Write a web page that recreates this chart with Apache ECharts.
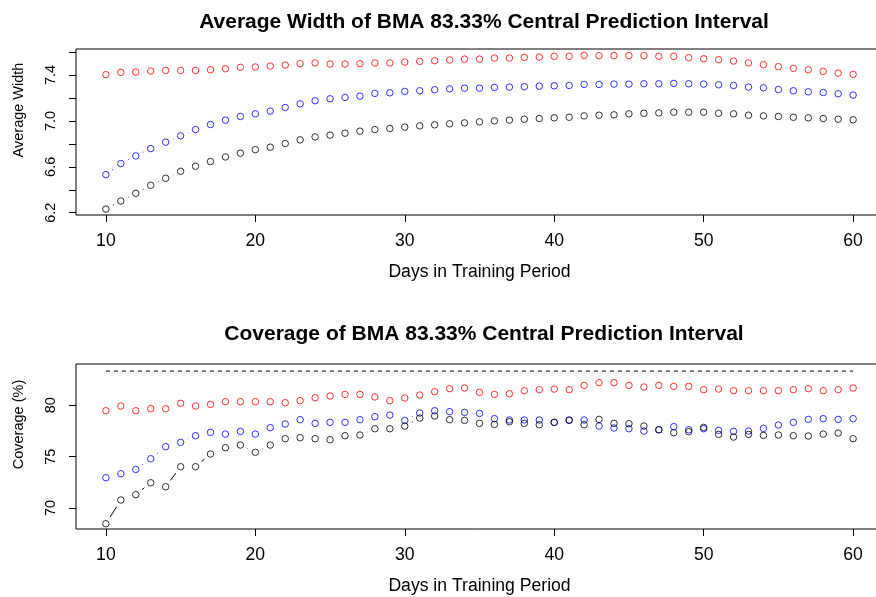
<!DOCTYPE html>
<html>
<head>
  <meta charset="utf-8">
  <title>BMA Prediction Interval</title>
  <script src="https://cdn.jsdelivr.net/npm/echarts@6/dist/echarts.min.js"></script>
  <style>
    html, body { margin: 0; padding: 0; background: #fff; }
    #chart { width: 876px; height: 597px; }
  </style>
</head>
<body>
<div id="chart"></div>
<script>
  // training period lengths (days)
  const days = [10, 11, 12, 13, 14, 15, 16, 17, 18, 19, 20, 21, 22, 23, 24, 25, 26, 27, 28, 29, 30,
    31, 32, 33, 34, 35, 36, 37, 38, 39, 40, 41, 42, 43, 44, 45, 46, 47, 48, 49, 50,
    51, 52, 53, 54, 55, 56, 57, 58, 59, 60];

  // average width of the interval
  const widthRed = [7.403, 7.423, 7.426, 7.435, 7.440, 7.440, 7.440, 7.446, 7.455, 7.467, 7.470,
    7.478, 7.487, 7.499, 7.505, 7.496, 7.496, 7.499, 7.505, 7.505, 7.513,
    7.519, 7.525, 7.531, 7.539, 7.539, 7.548, 7.548, 7.554, 7.557, 7.563,
    7.563, 7.571, 7.569, 7.569, 7.569, 7.569, 7.563, 7.563, 7.551, 7.542,
    7.534, 7.522, 7.505, 7.490, 7.473, 7.458, 7.446, 7.432, 7.417, 7.406];
  const widthBlue = [6.532, 6.628, 6.695, 6.759, 6.815, 6.870, 6.925, 6.969, 7.007, 7.039, 7.062,
    7.085, 7.117, 7.149, 7.176, 7.193, 7.205, 7.216, 7.240, 7.245, 7.257,
    7.263, 7.272, 7.280, 7.286, 7.286, 7.292, 7.295, 7.298, 7.303, 7.306,
    7.309, 7.318, 7.318, 7.321, 7.321, 7.324, 7.324, 7.327, 7.324, 7.321,
    7.315, 7.309, 7.295, 7.289, 7.274, 7.263, 7.254, 7.248, 7.237, 7.225];
  const widthBlack = [6.232, 6.302, 6.369, 6.439, 6.500, 6.561, 6.605, 6.646, 6.686, 6.719, 6.750,
    6.771, 6.803, 6.835, 6.861, 6.876, 6.893, 6.911, 6.925, 6.934, 6.946,
    6.957, 6.966, 6.975, 6.983, 6.992, 7.001, 7.007, 7.015, 7.021, 7.027,
    7.032, 7.044, 7.050, 7.053, 7.062, 7.067, 7.070, 7.076, 7.076, 7.076,
    7.067, 7.062, 7.050, 7.044, 7.039, 7.032, 7.027, 7.021, 7.015, 7.010];

  // coverage (%)
  const covRed = [79.47, 79.93, 79.47, 79.67, 79.67, 80.19, 79.93, 80.09, 80.35, 80.35, 80.35,
    80.35, 80.25, 80.45, 80.74, 80.90, 81.06, 81.06, 80.81, 80.45, 80.71,
    81.00, 81.32, 81.62, 81.68, 81.26, 81.06, 81.13, 81.42, 81.52, 81.58,
    81.52, 81.94, 82.20, 82.20, 81.94, 81.78, 81.94, 81.84, 81.84, 81.52,
    81.58, 81.42, 81.42, 81.42, 81.42, 81.52, 81.62, 81.42, 81.52, 81.68];
  const covBlue = [72.95, 73.34, 73.76, 74.80, 75.97, 76.39, 77.04, 77.36, 77.20, 77.46, 77.20,
    77.82, 78.18, 78.60, 78.24, 78.34, 78.34, 78.60, 78.89, 79.05, 78.53,
    79.25, 79.47, 79.38, 79.31, 79.21, 78.70, 78.57, 78.57, 78.57, 78.34,
    78.57, 78.57, 77.98, 77.79, 77.72, 77.49, 77.62, 77.92, 77.62, 77.72,
    77.56, 77.46, 77.49, 77.75, 78.08, 78.34, 78.63, 78.70, 78.63, 78.70];
  const covBlack = [68.47, 70.78, 71.30, 72.46, 72.07, 74.02, 74.02, 75.26, 75.87, 76.13, 75.42,
    76.13, 76.75, 76.85, 76.75, 76.65, 77.04, 77.11, 77.72, 77.72, 77.98,
    78.76, 78.96, 78.60, 78.53, 78.24, 78.14, 78.40, 78.24, 78.11, 78.34,
    78.53, 78.11, 78.63, 78.24, 78.21, 77.98, 77.62, 77.33, 77.43, 77.85,
    77.17, 76.91, 77.17, 77.07, 77.11, 77.04, 77.01, 77.20, 77.30, 76.75];
  const nominal = 83.33;

  const xTicks = [10, 20, 30, 40, 50, 60];
  const widthTicks = [6.2, 6.4, 6.6, 6.8, 7.0, 7.2, 7.4, 7.6];
  const widthLabels = [6.2, 6.6, 7.0, 7.4];
  const covTicks = [70, 75, 80];

  const FONT = 'Liberation Sans';
  const GAP = 8; // R type="b" leaves a gap round each point

  // points as open circles (pch = 1)
  function points(vals, color, gi) {
    return {
      type: 'scatter', xAxisIndex: gi, yAxisIndex: gi, z: 3, silent: true,
      symbol: 'circle', symbolSize: 6.5,
      itemStyle: { color: 'rgba(0,0,0,0)', borderColor: color, borderWidth: 1 },
      data: days.map(function (d, i) { return [d, vals[i]]; })
    };
  }

  // connecting segments, cut back round each point
  function segments(vals, color, dash, gi) {
    return {
      type: 'custom', xAxisIndex: gi, yAxisIndex: gi, z: 2, silent: true,
      data: days.slice(0, -1).map(function (d, i) { return [d, vals[i], days[i + 1], vals[i + 1]]; }),
      renderItem: function (params, api) {
        const a = api.coord([api.value(0), api.value(1)]);
        const b = api.coord([api.value(2), api.value(3)]);
        const dx = b[0] - a[0], dy = b[1] - a[1];
        const len = Math.sqrt(dx * dx + dy * dy);
        if (len <= 2 * GAP) return { type: 'group', children: [] };
        const ux = dx / len, uy = dy / len;
        return {
          type: 'line',
          shape: { x1: a[0] + ux * GAP, y1: a[1] + uy * GAP, x2: b[0] - ux * GAP, y2: b[1] - uy * GAP },
          style: { stroke: color, lineWidth: 1, lineDash: dash }
        };
      }
    };
  }

  function xAxis(gi) {
    return {
      type: 'value', gridIndex: gi, min: 8, max: 62,
      name: 'Days in Training Period', nameLocation: 'middle', nameGap: 48,
      nameTextStyle: { fontFamily: FONT, fontSize: 17.6, color: '#000' },
      axisLine: { show: false },
      axisTick: { show: true, length: 7, customValues: xTicks, lineStyle: { color: '#000' } },
      axisLabel: { customValues: xTicks, margin: 17, fontFamily: FONT, fontSize: 17.6, color: '#000' },
      splitLine: { show: false }
    };
  }

  function yAxis(gi, name, min, max, ticks, labels, fmt) {
    return {
      type: 'value', gridIndex: gi, min: min, max: max,
      name: name, nameLocation: 'middle', nameGap: 50,
      nameTextStyle: { fontFamily: FONT, fontSize: 14.5, color: '#000', padding: [0, 0, 0, 44] },
      axisLine: { show: false },
      axisTick: { show: true, length: 7, customValues: ticks, lineStyle: { color: '#000' } },
      axisLabel: { customValues: labels, rotate: 90, margin: 18, fontFamily: FONT, fontSize: 14.5, color: '#000', formatter: fmt },
      splitLine: { show: false }
    };
  }

  const chart = echarts.init(document.getElementById('chart'), null, { renderer: 'canvas' });
  chart.setOption({
    animation: false,
    backgroundColor: '#fff',
    title: [
      { text: 'Average Width of BMA 83.33% Central Prediction Interval', left: 479, top: 7, textAlign: 'center',
        textStyle: { fontFamily: FONT, fontSize: 21, fontWeight: 'bold', color: '#000' } },
      { text: 'Coverage of BMA 83.33% Central Prediction Interval', left: 479, top: 319, textAlign: 'center',
        textStyle: { fontFamily: FONT, fontSize: 21, fontWeight: 'bold', color: '#000' } }
    ],
    grid: [
      { left: 76, top: 49, width: 807, height: 166, outerBoundsMode: 'none',
        show: true, borderColor: '#000', borderWidth: 1 },
      { left: 76, top: 364, width: 807, height: 165, outerBoundsMode: 'none',
        show: true, borderColor: '#000', borderWidth: 1 }
    ],
    xAxis: [xAxis(0), xAxis(1)],
    yAxis: [
      yAxis(0, 'Average Width', 6.18, 7.627, widthTicks, widthLabels, function (v) { return v.toFixed(1); }),
      yAxis(1, 'Coverage (%)', 67.96, 84.02, covTicks, covTicks, function (v) { return String(v); })
    ],
    series: [
      segments(widthBlack, '#000', null, 0),
      segments(widthBlue, '#0000ff', [1, 3], 0),
      points(widthRed, '#ff0000', 0),
      points(widthBlue, '#0000ff', 0),
      points(widthBlack, '#000000', 0),
      {
        type: 'line', xAxisIndex: 1, yAxisIndex: 1, silent: true, symbol: 'none', z: 1,
        lineStyle: { color: '#000', width: 1, type: [4, 4] },
        data: [[days[0], nominal], [days[days.length - 1], nominal]]
      },
      segments(covBlack, '#000', null, 1),
      segments(covBlue, '#0000ff', [1, 3], 1),
      points(covRed, '#ff0000', 1),
      points(covBlue, '#0000ff', 1),
      points(covBlack, '#000000', 1)
    ]
  });
</script>
</body>
</html>
